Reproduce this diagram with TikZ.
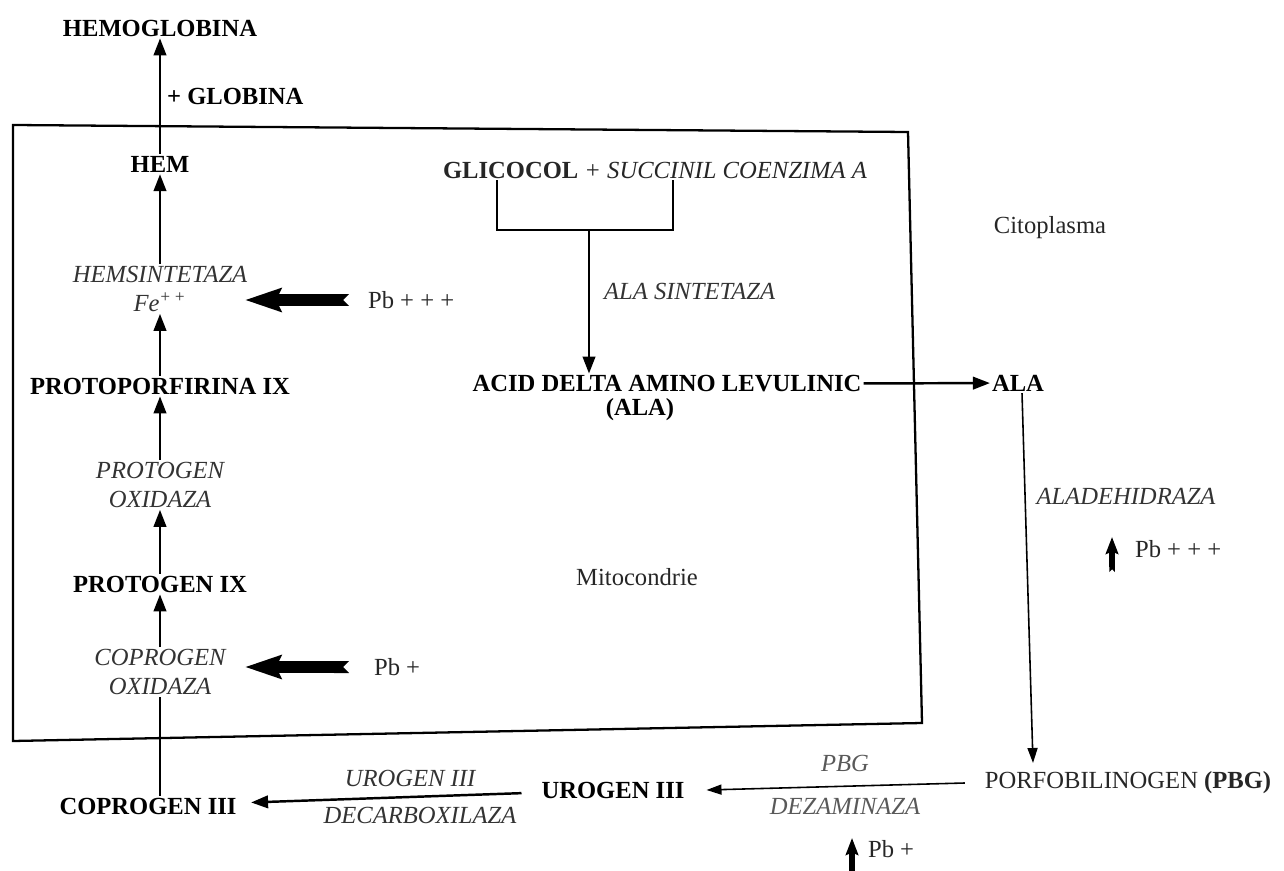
\documentclass[tikz,border=0pt]{standalone}
\usepackage{fontspec}
\setmainfont{Liberation Serif}
\usetikzlibrary{arrows.meta}
\newcommand\labelsize{\fontsize{14}{16.5}\selectfont}

\begin{document}
\begin{tikzpicture}[x=0.02cm, y=0.02cm,
    compound/.style={font=\labelsize\bfseries},
    enzyme/.style={font=\labelsize\itshape, text=black!80, align=center},
    note/.style={font=\labelsize, text=black!85},
    reactarrow/.style={line width=1.4pt, -{Triangle[length=0.34cm,width=0.25cm]}},
    thinarrow/.style={line width=0.9pt, -{Triangle[length=0.3cm,width=0.2cm]}},
    leadarrow/.style={line width=0.24cm, {Triangle Cap[reversed]}-{Stealth[length=0.72cm,width=0.46cm,inset=0.1cm]}},
    leadsmall/.style={line width=0.11cm, {Triangle Cap[reversed]}-{Stealth[length=0.34cm,width=0.25cm,inset=0.05cm]}}]
    \tikzstyle{every node}+=[inner sep=1pt]
    \useasboundingbox (0,0) rectangle (1284,-871);
    % mitocondrie
    \draw [line width=1.3pt] (13,-125) -- (908,-132) -- (922,-723) -- (13,-741) -- cycle;
    \node [note] (mito) at (637,-577) {Mitocondrie};
    \node [note] (cito) at (1050,-228) {Citoplasma};
    % lantul hemului
    \node [compound] (hemo) at (160,-28) {HEMOGLOBINA};
    \node [compound, anchor=west] (glob) at (165,-96) {+ GLOBINA};
    \node [compound] (hem) at (160,-164) {HEM};
    \node [enzyme] (hemsint) at (160,-289) {HEMSINTETAZA\\Fe\textsuperscript{+\,+}};
    \node [compound] (proto9) at (160,-386) {PROTOPORFIRINA IX};
    \node [enzyme] (protox) at (160,-485) {PROTOGEN\\OXIDAZA};
    \node [compound] (progen) at (160,-584) {PROTOGEN IX};
    \node [enzyme] (coprox) at (160,-672) {COPROGEN\\OXIDAZA};
    \node [compound] (copro3) at (148,-806) {COPROGEN III};
    \draw [reactarrow] (hem) -- (hemo);
    \draw [reactarrow] (hemsint) -- (hem);
    \draw [reactarrow] (proto9) -- (hemsint);
    \draw [reactarrow] (protox) -- (proto9);
    \draw [reactarrow] (progen) -- (protox);
    \draw [reactarrow] (coprox) -- (progen);
    \draw [line width=1.4pt] (copro3.north -| coprox.south) -- (coprox.south);
    % plumb
    \node [note, anchor=west] (pbhem) at (366,-300) {Pb + + +};
    \coordinate (hemtip) at (245,-300);
    \draw [leadarrow, shorten <=0.34cm] (pbhem.west) -- (hemtip);
    \node [note, anchor=west] (pbcop) at (372,-667) {Pb +};
    \coordinate (coptip) at (245,-667);
    \draw [leadarrow, shorten <=0.46cm] (pbcop.west) -- (coptip);
    % sinteza ALA
    \node [note] (glic) at (655,-170) {\textbf{GLICOCOL} \textit{+ SUCCINIL COENZIMA A}};
    \coordinate (brl) at (497,-230);
    \coordinate (brr) at (673,-230);
    \coordinate (brm) at (589,-230);
    \draw [line width=1.4pt] (glic.south -| brl) -- (brl) -- (brr) -- (glic.south -| brr);
    \node [compound] (acid) at (667,-384) {ACID DELTA AMINO LEVULINIC};
    \node [compound] (acidabbr) at (640,-410) {(ALA)};
    \node [enzyme, anchor=west] (alasint) at (602,-291) {ALA SINTETAZA};
    \draw [reactarrow] (brm) -- (brm |- acid.north);
    \node [compound] (ala) at (1018,-383) {ALA};
    \draw [reactarrow] (acid) -- (ala);
    % citoplasma
    \node [enzyme] (aladeh) at (1126,-496) {ALADEHIDRAZA};
    \node [note, anchor=west] (pbala) at (1133,-549) {Pb + + +};
    \coordinate (alabase) at (1112,-572);
    \coordinate (alatip) at (1112,-537);
    \draw [leadsmall] (alabase) -- (alatip);
    \node [note] (porfo) at (1128,-783) {PORFOBILINOGEN \textbf{(PBG)}};
    \coordinate (porfotop) at (1033,-763);
    \draw [thinarrow] ([xshift=0.08cm]ala.south) -- (porfotop);
    \node [compound] (urogen) at (613,-790) {UROGEN III};
    \draw [thinarrow] ([xshift=-0.36cm]porfo.west) -- ([xshift=0.4cm]urogen.east);
    \node [enzyme, text=black!65] (pbg) at (845,-763) {PBG};
    \node [enzyme, text=black!65] (dezam) at (845,-806) {DEZAMINAZA};
    \node [note, anchor=west] (pbdez) at (866,-849) {Pb +};
    \coordinate (dezbase) at (852,-880);
    \coordinate (deztip) at (852,-838);
    \draw [leadsmall] (dezbase) -- (deztip);
    \draw [reactarrow, shorten <=0.36cm, shorten >=0.25cm] (urogen) -- (copro3);
    \node [enzyme] (urodec) at (410,-778) {UROGEN III};
    \node [enzyme] (decarb) at (420,-815) {DECARBOXILAZA};
\end{tikzpicture}
\end{document}
